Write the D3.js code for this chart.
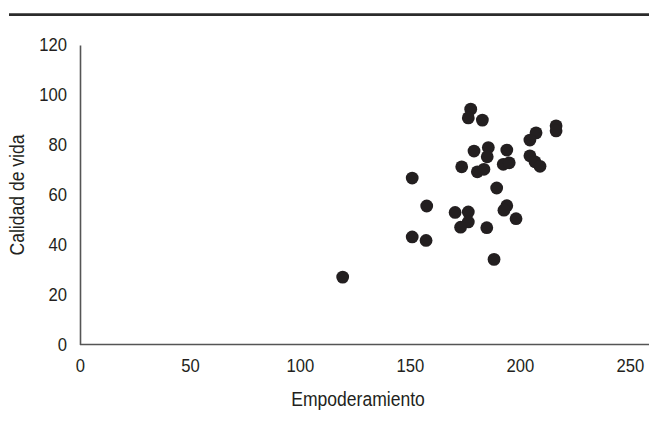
<!DOCTYPE html>
<html>
<head>
<meta charset="utf-8">
<script src="https://cdn.jsdelivr.net/npm/d3@7"></script>
<style>
  html, body { margin: 0; padding: 0; background: #fff; }
  svg { display: block; }
  text { font-family: "Liberation Sans", Arial, sans-serif; fill: #231f20; }
</style>
</head>
<body>
<script>
// Empoderamiento (x) values
const empoderamiento = [177.6, 176.5, 182.9, 207.3, 204.5, 216.4, 216.4, 179.1, 185.6, 185.1,
  194.0, 192.4, 195.1, 173.5, 180.6, 183.6, 204.5, 206.8, 209.1, 151.0,
  189.4, 157.6, 170.5, 176.5, 194.0, 192.7, 198.2, 176.5, 173.0, 184.9,
  151.0, 157.3, 188.2, 119.4];
// Calidad de vida (y) values
const calidadDeVida = [94.3, 90.8, 89.9, 84.8, 81.9, 87.6, 85.6, 77.5, 78.9, 75.2,
  77.9, 72.2, 72.8, 71.2, 69.2, 70.2, 75.6, 73.2, 71.4, 66.7,
  62.7, 55.5, 52.9, 53.1, 55.6, 53.8, 50.4, 49.1, 47.0, 46.8,
  43.1, 41.7, 34.1, 27.0];
const xTicks = [0, 50, 100, 150, 200, 250];
const yTicks = [0, 20, 40, 60, 80, 100, 120];
const xTitle = "Empoderamiento";
const yTitle = "Calidad de vida";

const W = 649, H = 421;
const SX = 0.9; // horizontal condensing to mimic a condensed typeface
const svg = d3.select("body").append("svg").attr("width", W).attr("height", H);

const x = d3.scaleLinear().domain([0, 250]).range([80, 630]);
const y = d3.scaleLinear().domain([0, 120]).range([344.5, 45]);

// top rule
svg.append("line").attr("x1", 9).attr("x2", W).attr("y1", 14.7).attr("y2", 14.7)
  .attr("stroke", "#2b2b2b").attr("stroke-width", 2.8);

// axes
const xAxis = svg.append("g").attr("transform", `translate(0,${y(0)})`)
  .call(d3.axisBottom(x).tickValues(xTicks).tickSize(0).tickPadding(14).tickFormat(d3.format("d")));
xAxis.select(".domain").attr("d", `M${x(0)},0H${W}`).attr("stroke", "#555").attr("stroke-width", 1.6);

const yAxis = svg.append("g").attr("transform", `translate(${x(0)},0)`)
  .call(d3.axisLeft(y).tickValues(yTicks).tickSize(0).tickPadding(13 / SX).tickFormat(d3.format("d")));
yAxis.select(".domain").attr("stroke", "#555").attr("stroke-width", 1.6);

svg.selectAll(".tick text").attr("font-size", "18.5px")
  .attr("font-family", null).style("fill", "#231f20")
  .attr("transform", `scale(${SX},1)`);

// points
const data = empoderamiento.map((d, i) => ({ x: d, y: calidadDeVida[i] }));
svg.append("g").selectAll("circle").data(data).join("circle")
  .attr("cx", d => x(d.x)).attr("cy", d => y(d.y)).attr("r", 6.4)
  .attr("fill", "#231f20");

// titles
svg.append("text").attr("transform", `translate(358,406) scale(${SX},1)`).attr("text-anchor", "middle")
  .attr("font-size", "19.5px").text(xTitle);
svg.append("text").attr("transform", `translate(24,195) rotate(-90) scale(${SX},1)`).attr("text-anchor", "middle")
  .attr("font-size", "19.5px").text(yTitle);
</script>
</body>
</html>
